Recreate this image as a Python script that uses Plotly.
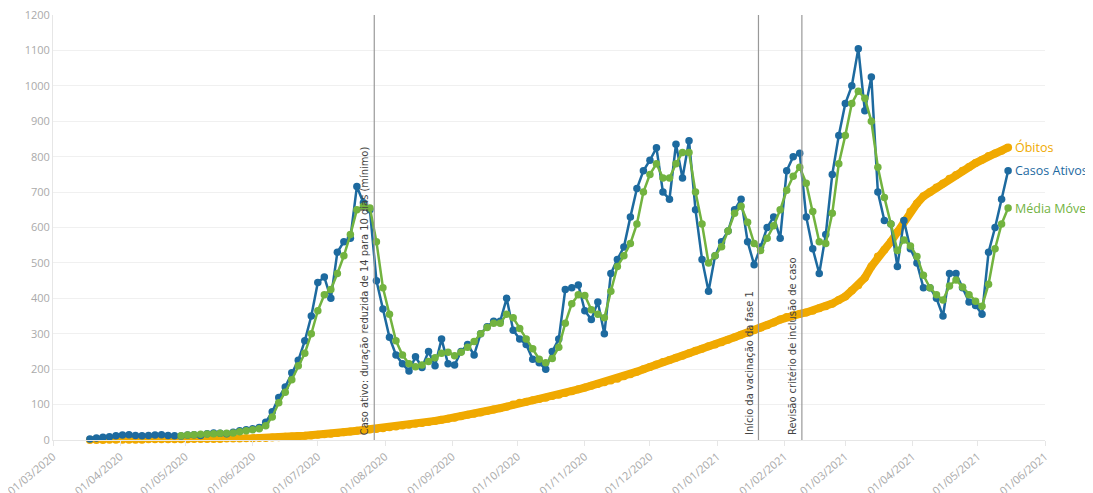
import pandas as pd
import plotly.graph_objects as go

# ---- data (sampled every 3 days) ----
casos_start = "2020-03-18"
casos_ativos = [3, 6, 8, 9, 12, 14, 15, 13, 12, 13, 14, 15, 13, 12, 11, 14, 15, 13, 18, 20,
                19, 18, 22, 26, 29, 32, 35, 50, 80, 120, 150, 190, 225, 280, 350, 445, 460, 400, 530, 560,
                570, 716, 670, 650, 450, 370, 290, 240, 215, 195, 235, 205, 250, 210, 285, 215, 212, 250, 270, 240,
                300, 320, 335, 335, 400, 310, 285, 270, 228, 218, 200, 250, 285, 425, 430, 438, 365, 340, 390, 300,
                470, 510, 545, 630, 710, 760, 790, 825, 700, 680, 835, 740, 845, 650, 510, 420, 520, 560, 590, 650,
                680, 560, 495, 545, 600, 630, 570, 760, 800, 810, 630, 540, 470, 580, 750, 860, 950, 1000, 1105, 930,
                1025, 700, 620, 610, 490, 620, 540, 500, 430, 430, 400, 350, 470, 470, 430, 390, 380, 355, 530, 600,
                680, 760]

media_start = "2020-04-29"
media_movel = [12, 14, 15, 16, 17, 18, 19, 19, 20, 23, 26, 29, 32, 40, 65, 105, 135, 170, 210, 245,
               300, 365, 410, 425, 470, 520, 580, 650, 660, 655, 560, 430, 355, 280, 240, 215, 207, 212, 222, 232,
               245, 248, 238, 248, 262, 278, 300, 318, 330, 330, 355, 345, 315, 285, 258, 228, 218, 230, 262, 330,
               385, 410, 408, 368, 355, 345, 420, 490, 520, 555, 610, 700, 750, 780, 740, 740, 780, 812, 812, 700,
               610, 500, 520, 546, 590, 640, 660, 615, 555, 535, 570, 605, 650, 705, 745, 770, 725, 645, 560, 555,
               640, 780, 860, 950, 985, 965, 900, 770, 685, 610, 535, 565, 548, 518, 465, 430, 410, 395, 435, 452,
               432, 410, 392, 378, 440, 540, 610, 655]

obitos_start = "2020-03-18"
obitos = [0, 0, 0, 1, 1, 1, 1, 1, 1, 2, 2, 2, 2, 2, 2, 2, 3, 3, 3, 3,
          3, 4, 4, 4, 5, 5, 6, 6, 7, 8, 9, 10, 11, 12, 13, 15, 16, 18, 20, 22,
          24, 26, 28, 30, 31, 33, 36, 38, 41, 43, 46, 48, 51, 54, 57, 60, 63, 67, 71, 74,
          78, 82, 86, 90, 94, 100, 105, 108, 112, 116, 119, 124, 128, 133, 138, 143, 148, 153, 158, 163,
          168, 173, 180, 186, 193, 200, 206, 213, 220, 226, 232, 238, 245, 252, 258, 265, 270, 276, 283, 290,
          297, 303, 310, 317, 324, 332, 340, 347, 352, 356, 360, 365, 372, 378, 385, 395, 405, 422, 437, 458,
          490, 518, 537, 560, 587, 618, 645, 668, 688, 700, 713, 724, 738, 748, 760, 771, 782, 791, 802, 809,
          817, 826]

event_dates = ["2020-07-27", "2021-01-20", "2021-02-09"]
event_labels = ["Caso ativo: duração reduzida de 14 para 10 dias (mínimo)",
                "Início da vacinação da fase 1",
                "Revisão critério de inclusão de caso"]

colors = {"Óbitos": "#f0a900", "Casos Ativos": "#1d6a9f", "Média Móvel": "#72b33f"}

d_casos = pd.date_range(casos_start, periods=len(casos_ativos), freq="3D")
d_media = pd.date_range(media_start, periods=len(media_movel), freq="3D")
d_obitos = pd.date_range(obitos_start, periods=len(obitos), freq="3D")

fig = go.Figure()
fig.add_trace(go.Scatter(x=d_obitos, y=obitos, mode="lines+markers", name="Óbitos",
                         line=dict(color=colors["Óbitos"], width=8),
                         marker=dict(size=8, color=colors["Óbitos"]), cliponaxis=False))
fig.add_trace(go.Scatter(x=d_casos, y=casos_ativos, mode="lines+markers", name="Casos Ativos",
                         line=dict(color=colors["Casos Ativos"], width=2.5),
                         marker=dict(size=7.5, color=colors["Casos Ativos"]), cliponaxis=False))
fig.add_trace(go.Scatter(x=d_media, y=media_movel, mode="lines+markers", name="Média Móvel",
                         line=dict(color=colors["Média Móvel"], width=2.5),
                         marker=dict(size=7.5, color=colors["Média Móvel"]), cliponaxis=False))

for dt, lab in zip(event_dates, event_labels):
    fig.add_shape(type="line", xref="x", yref="paper", x0=dt, x1=dt, y0=0, y1=1,
                  line=dict(color="#999999", width=1.2))
    fig.add_annotation(x=dt, xref="x", y=0, yref="paper", text=lab, textangle=-90,
                       showarrow=False, xanchor="right", yanchor="bottom", xshift=-1, yshift=3,
                       font=dict(family="Liberation Sans Narrow, DejaVu Sans Condensed, sans-serif",
                                 size=11, color="#444444"))

for name, dts, vals in [("Óbitos", d_obitos, obitos), ("Casos Ativos", d_casos, casos_ativos),
                        ("Média Móvel", d_media, media_movel)]:
    fig.add_annotation(x=dts[-1], y=vals[-1], xref="x", yref="y", text=name, showarrow=False,
                       xanchor="left", yanchor="middle", xshift=5,
                       font=dict(family="Open Sans, sans-serif", size=12.5, color=colors[name]))

fig.update_layout(
    width=1085, height=485,
    margin=dict(l=45, r=48, t=7, b=53),
    paper_bgcolor="white", plot_bgcolor="white",
    showlegend=False,
    font=dict(family="Open Sans, sans-serif", color="#aaaaaa", size=11),
)
fig.update_xaxes(range=["2020-03-01", "2021-06-01"], dtick="M1", tick0="2020-03-01",
                 tickformat="%d/%m/%Y", tickangle=-40, showgrid=False, automargin=False,
                 ticklabeloverflow="allow",
                 showline=True, linecolor="#e6e6e6", ticks="outside", ticklen=5, tickcolor="#e6e6e6",
                 tickfont=dict(size=11, color="#aaaaaa"))
fig.update_yaxes(range=[0, 1200], dtick=100, showgrid=True, gridcolor="#f0f0f0", automargin=False,
                 ticklabeloverflow="allow",
                 showline=True, linecolor="#e6e6e6", zeroline=False,
                 tickfont=dict(size=11, color="#aaaaaa"))

fig.write_html("out.html")
